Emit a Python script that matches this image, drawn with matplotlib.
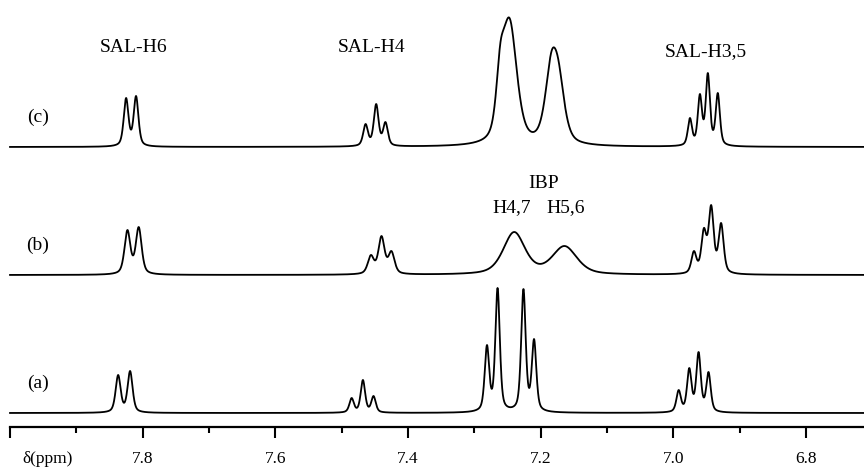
import matplotlib
matplotlib.use("Agg")
import matplotlib.pyplot as plt
import numpy as np
from matplotlib.ticker import FixedLocator, FixedFormatter

# peak lists: shift (ppm), height (a.u.), line width (ppm)
a_shift = [7.837, 7.819, 7.485, 7.468, 7.452, 7.281, 7.265, 7.226, 7.210,
           6.992, 6.976, 6.962, 6.947]
a_height = [38, 42, 15, 33, 17, 68, 125, 124, 74, 23, 45, 61, 41]
a_width = [0.009, 0.009, 0.008, 0.008, 0.008, 0.008, 0.008, 0.008, 0.008,
           0.008, 0.008, 0.008, 0.008]

b_shift = [7.823, 7.806, 7.456, 7.440, 7.425, 7.240, 7.164,
           6.969, 6.954, 6.943, 6.928]
b_height = [45, 48, 20, 39, 24, 43, 29, 24, 47, 70, 52]
b_width = [0.0105, 0.0105, 0.011, 0.011, 0.011, 0.039, 0.044,
           0.009, 0.009, 0.009, 0.009]

c_shift = [7.825, 7.810, 7.464, 7.448, 7.434, 7.261, 7.247, 7.184, 7.173,
           6.975, 6.960, 6.948, 6.933]
c_height = [49, 51, 23, 43, 25, 103, 129, 95, 86, 29, 53, 74, 54]
c_width = [0.0085, 0.0085, 0.0085, 0.0085, 0.0085, 0.014, 0.026, 0.022, 0.022,
           0.0075, 0.0075, 0.0075, 0.0075]

spectrum_names = ["(a)", "(b)", "(c)"]
major_ticks = [8.0, 7.8, 7.6, 7.4, 7.2, 7.0, 6.8]
major_labels = ["", "7.8", "7.6", "7.4", "7.2", "7.0", "6.8"]
minor_ticks = [7.9, 7.7, 7.5, 7.3, 7.1, 6.9]

ETA = 0.5          # lorentzian fraction of the line shape
OFFSETS = [14, 152, 280]
X_LEFT, X_RIGHT = 8.0151, 6.7126

plt.rcParams["font.family"] = ["Liberation Serif", "DejaVu Serif"]


def profile(x, x0, w):
    lor = 1.0 / (1.0 + (2.0 * (x - x0) / w) ** 2)
    gau = np.exp(-4.0 * np.log(2.0) * ((x - x0) / w) ** 2)
    return ETA * lor + (1.0 - ETA) * gau


def spectrum(x, shifts, heights, widths):
    shifts = np.asarray(shifts)
    widths = np.asarray(widths)
    # amplitudes so that the summed curve hits the read heights at each shift
    m = np.array([[profile(s, s0, w) for s0, w in zip(shifts, widths)] for s in shifts])
    amps = np.linalg.solve(m, np.asarray(heights, dtype=float))
    y = np.zeros_like(x)
    for s0, w, a in zip(shifts, widths, amps):
        y += a * profile(x, s0, w)
    return y


fig = plt.figure(figsize=(8.64, 4.72), dpi=100)
ax = fig.add_axes([0, 1 - 427 / 472, 1, 427 / 472])
ax.set_xlim(X_LEFT, X_RIGHT)
ax.set_ylim(0, 427)

x = np.linspace(8.0, X_RIGHT, 5000)
peaks = [(a_shift, a_height, a_width), (b_shift, b_height, b_width),
         (c_shift, c_height, c_width)]
for (s, h, w), off, name in zip(peaks, OFFSETS, spectrum_names):
    ax.plot(x, spectrum(x, s, h, w) + off, color="black", lw=1.3, clip_on=False)
    ax.text(7.958, off + 30, name, fontsize=14, ha="center", va="center")

ax.text(7.8145, 379, "SAL-H6", fontsize=14, ha="center", va="center")
ax.text(7.4555, 379, "SAL-H4", fontsize=14, ha="center", va="center")
ax.text(6.9517, 375, "SAL-H3,5", fontsize=14, ha="center", va="center")
ax.text(7.196, 244, "IBP", fontsize=14, ha="center", va="center")
ax.text(7.2443, 219, "H4,7", fontsize=14, ha="center", va="center")
ax.text(7.1629, 219, "H5,6", fontsize=14, ha="center", va="center")
ax.text(7.944, -32, "δ(ppm)", fontsize=12.5, ha="center", va="center")

for side in ["left", "right", "top"]:
    ax.spines[side].set_visible(False)
ax.spines["bottom"].set_linewidth(1.6)
ax.spines["bottom"].set_bounds(8.0, X_RIGHT)
ax.set_yticks([])
ax.xaxis.set_major_locator(FixedLocator(major_ticks))
ax.xaxis.set_major_formatter(FixedFormatter(major_labels))
ax.xaxis.set_minor_locator(FixedLocator(minor_ticks))
ax.tick_params(axis="x", which="major", direction="out", length=8, width=1.5,
               labelsize=12.5, pad=9)
ax.tick_params(axis="x", which="minor", direction="out", length=4.5, width=1.5)
ax.patch.set_visible(False)

fig.savefig("out.png", dpi=100)
